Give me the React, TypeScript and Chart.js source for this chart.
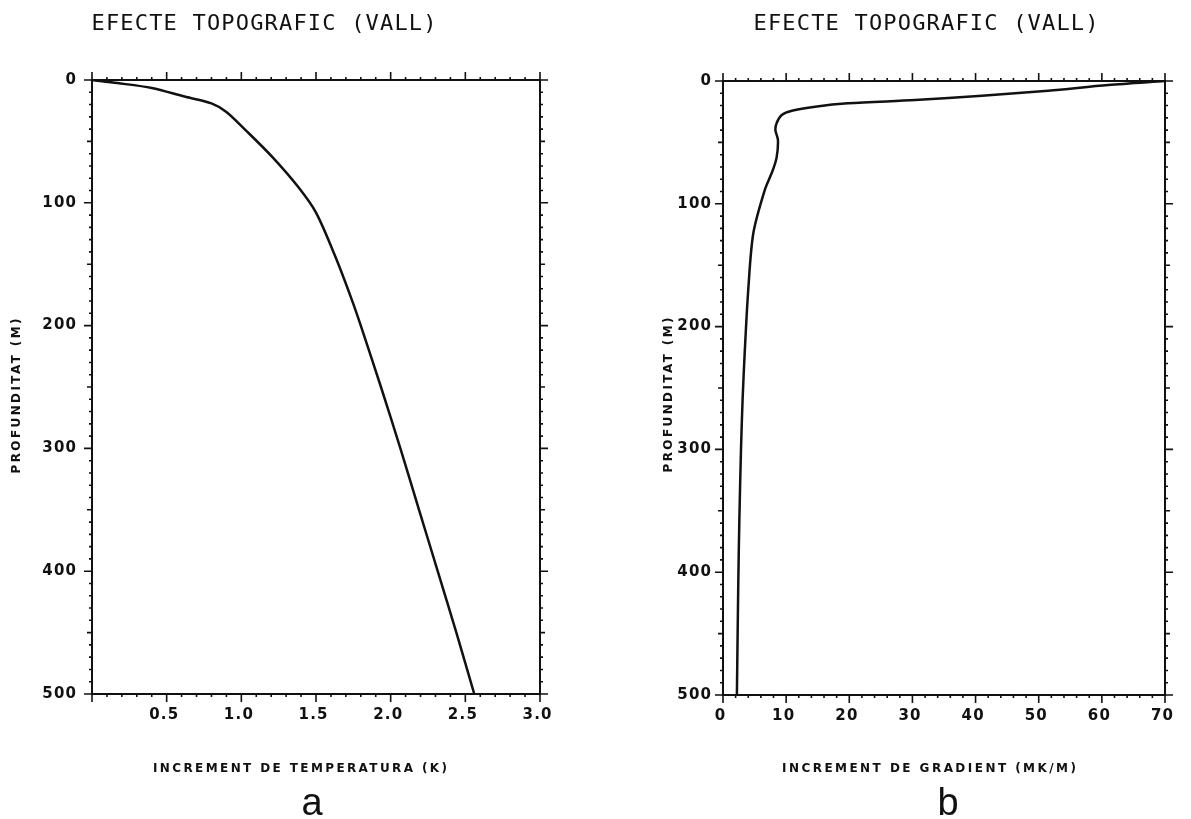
import { useEffect, useRef } from "react";
import { Chart, registerables } from "chart.js";

Chart.register(...registerables);

// ---- Panel a: temperature increment (K) against depth (m) ----
const depthA = [0, 2.5, 6.5, 13.5, 19, 26, 41, 63, 87, 108, 144, 179, 200, 250, 300, 350, 400, 450, 500];
const tempIncrement = [0, 0.17, 0.4, 0.62, 0.8, 0.9, 1.03, 1.21, 1.38, 1.5, 1.63, 1.74, 1.8, 1.935, 2.065, 2.19, 2.315, 2.44, 2.56];
const tempTickValues = [0.5, 1.0, 1.5, 2.0, 2.5, 3.0];
const tempTickLabels = ["0.5", "1.0", "1.5", "2.0", "2.5", "3.0"];

// ---- Panel b: gradient increment (mK/m) against depth (m) ----
const depthB = [0, 3.3, 7.9, 12, 15.5, 18.2, 20.9, 24.2, 27.7, 34.2, 40, 48, 62, 72.5, 89, 124, 170, 220, 260, 300, 355, 409, 500];
const gradIncrement = [70, 61, 51.5, 41, 30.4, 19.8, 14.6, 10.9, 9.3, 8.5, 8.3, 8.7, 8.5, 7.9, 6.6, 4.8, 4.0, 3.45, 3.1, 2.85, 2.6, 2.42, 2.2];
const gradTickValues = [0, 10, 20, 30, 40, 50, 60, 70];
const gradTickLabels = ["0", "10", "20", "30", "40", "50", "60", "70"];

// ---- Shared depth axis ----
const depthTickValues = [0, 100, 200, 300, 400, 500];
const depthTickLabels = ["0", "100", "200", "300", "400", "500"];

const INK = "#111";
const PAGE_H = 819;

interface PanelSpec {
  left: number;
  width: number;
  title: string;
  xTitle: string;
  yTitle: string;
  letter: string;
  depths: number[];
  values: number[];
  xMax: number;
  xMajor: number;
  xMinor: number;
  xTickValues: number[];
  xTickLabels: string[];
  area: { left: number; top: number; right: number; bottom: number };
  titleX: number;
  xTitleX: number;
  yTitleX: number;
  yTitleY: number;
  yLabelRight: number;
  letterX: number;
}

const panels: PanelSpec[] = [
  {
    left: 0,
    width: 600,
    title: "EFECTE TOPOGRAFIC (VALL)",
    xTitle: "INCREMENT DE TEMPERATURA (K)",
    yTitle: "PROFUNDITAT (M)",
    letter: "a",
    depths: depthA,
    values: tempIncrement,
    xMax: 3,
    xMajor: 0.5,
    xMinor: 0.1,
    xTickValues: tempTickValues,
    xTickLabels: tempTickLabels,
    area: { left: 92, top: 80, right: 540, bottom: 694 },
    titleX: 264,
    xTitleX: 300,
    yTitleX: 17,
    yTitleY: 396,
    yLabelRight: 76,
    letterX: 312,
  },
  {
    left: 600,
    width: 591,
    title: "EFECTE TOPOGRAFIC (VALL)",
    xTitle: "INCREMENT DE GRADIENT (MK/M)",
    yTitle: "PROFUNDITAT (M)",
    letter: "b",
    depths: depthB,
    values: gradIncrement,
    xMax: 70,
    xMajor: 10,
    xMinor: 2,
    xTickValues: gradTickValues,
    xTickLabels: gradTickLabels,
    area: { left: 123, top: 81, right: 565, bottom: 695 },
    titleX: 326,
    xTitleX: 329,
    yTitleX: 69,
    yTitleY: 395,
    yLabelRight: 111,
    letterX: 348,
  },
];

type Ctx = CanvasRenderingContext2D & { letterSpacing?: string };

// Draws text stretched by letter spacing so that it spans the given width, centred on cx.
function drawFitted(ctx: Ctx, text: string, cx: number, cy: number, width: number, font: string) {
  ctx.font = font;
  ctx.letterSpacing = "0px";
  const w = ctx.measureText(text).width;
  const ls = text.length > 1 ? (width - w) / (text.length - 1) : 0;
  ctx.letterSpacing = `${ls}px`;
  ctx.textAlign = "left";
  ctx.textBaseline = "middle";
  ctx.fillText(text, cx - width / 2, cy);
  ctx.letterSpacing = "0px";
}

// Draws text with fixed letter spacing, aligned by its visible extent.
function drawSpaced(ctx: Ctx, text: string, x: number, y: number, spacing: number, align: "center" | "right") {
  ctx.letterSpacing = `${spacing}px`;
  const w = ctx.measureText(text).width - spacing;
  ctx.textAlign = "left";
  ctx.textBaseline = "middle";
  const startX = align === "center" ? x - w / 2 : x - w;
  ctx.fillText(text, startX, y);
  ctx.letterSpacing = "0px";
}

function makeFramePlugin(spec: PanelSpec) {
  return {
    id: "plotterFrame",
    beforeDatasetsDraw(chart: Chart) {
      const ctx = chart.ctx as Ctx;
      const a = chart.chartArea;
      const x = chart.scales.x;
      const y = chart.scales.y;
      ctx.save();
      ctx.strokeStyle = INK;
      ctx.lineWidth = 2;
      ctx.strokeRect(a.left, a.top, a.right - a.left, a.bottom - a.top);

      ctx.lineWidth = 1.6;
      ctx.beginPath();
      const nx = Math.round(spec.xMax / spec.xMinor);
      const ratio = Math.round(spec.xMajor / spec.xMinor);
      for (let i = 0; i <= nx; i++) {
        const px = x.getPixelForValue(i * spec.xMinor);
        const len = i % ratio === 0 ? 8 : 3;
        ctx.moveTo(px, a.bottom);
        ctx.lineTo(px, a.bottom + len);
        ctx.moveTo(px, a.top);
        ctx.lineTo(px, a.top - len);
      }
      for (let d = 0; d <= 500; d += 10) {
        const py = y.getPixelForValue(d);
        const len = d % 100 === 0 ? 8 : d % 50 === 0 ? 5 : 3;
        ctx.moveTo(a.left, py);
        ctx.lineTo(a.left - len, py);
        ctx.moveTo(a.right, py);
        ctx.lineTo(a.right + len, py);
      }
      ctx.stroke();
      ctx.restore();
    },
    afterDraw(chart: Chart) {
      const ctx = chart.ctx as Ctx;
      const a = chart.chartArea;
      const x = chart.scales.x;
      const y = chart.scales.y;
      ctx.save();
      ctx.fillStyle = INK;

      // Heading
      drawFitted(ctx, spec.title, spec.titleX, 24, 345, '22px "DejaVu Sans Mono"');

      // Tick labels
      ctx.font = 'bold 15px "DejaVu Sans"';
      spec.xTickValues.forEach((v, i) => {
        drawSpaced(ctx, spec.xTickLabels[i], x.getPixelForValue(v) - 3, a.bottom + 21, 1.2, "center");
      });
      depthTickValues.forEach((d, i) => {
        drawSpaced(ctx, depthTickLabels[i], spec.yLabelRight, y.getPixelForValue(d), 1.2, "right");
      });

      // Axis titles
      drawFitted(ctx, spec.xTitle, spec.xTitleX, 769, 294, 'bold 12px "DejaVu Sans"');
      ctx.save();
      ctx.translate(spec.yTitleX, spec.yTitleY);
      ctx.rotate(-Math.PI / 2);
      drawFitted(ctx, spec.yTitle, 0, 0, 155, 'bold 12px "DejaVu Sans"');
      ctx.restore();

      // Panel letter
      ctx.font = '38px "Liberation Sans"';
      ctx.textAlign = "center";
      ctx.textBaseline = "alphabetic";
      ctx.fillText(spec.letter, spec.letterX, 815);
      ctx.restore();
    },
  };
}

function DepthPanel({ spec }: { spec: PanelSpec }) {
  const ref = useRef<HTMLCanvasElement>(null);

  useEffect(() => {
    const canvas = ref.current;
    if (!canvas) return;
    const points = spec.depths.map((d, i) => ({ x: spec.values[i], y: d }));
    const chart = new Chart(canvas, {
      type: "line",
      data: {
        datasets: [
          {
            data: points,
            borderColor: INK,
            borderWidth: 2.5,
            pointRadius: 0,
            tension: 0.3,
            fill: false,
          },
        ],
      },
      options: {
        responsive: false,
        animation: false,
        devicePixelRatio: 1,
        events: [],
        layout: {
          padding: {
            left: spec.area.left,
            top: spec.area.top,
            right: spec.width - spec.area.right,
            bottom: PAGE_H - spec.area.bottom,
          },
        },
        plugins: {
          legend: { display: false },
          tooltip: { enabled: false },
          title: { display: false },
        },
        scales: {
          x: { type: "linear", min: 0, max: spec.xMax, display: false },
          y: { type: "linear", min: 0, max: 500, reverse: true, display: false },
        },
      },
      plugins: [makeFramePlugin(spec)],
    });
    return () => chart.destroy();
  }, [spec]);

  return (
    <canvas
      ref={ref}
      width={spec.width}
      height={PAGE_H}
      style={{ position: "absolute", left: spec.left, top: 0, width: spec.width, height: PAGE_H }}
    />
  );
}

export default function App() {
  return (
    <div
      style={{
        position: "absolute",
        left: 0,
        top: 0,
        width: 1191,
        height: PAGE_H,
        overflow: "hidden",
        background: "#fff",
      }}
    >
      {panels.map((p) => (
        <DepthPanel key={p.letter} spec={p} />
      ))}
    </div>
  );
}
